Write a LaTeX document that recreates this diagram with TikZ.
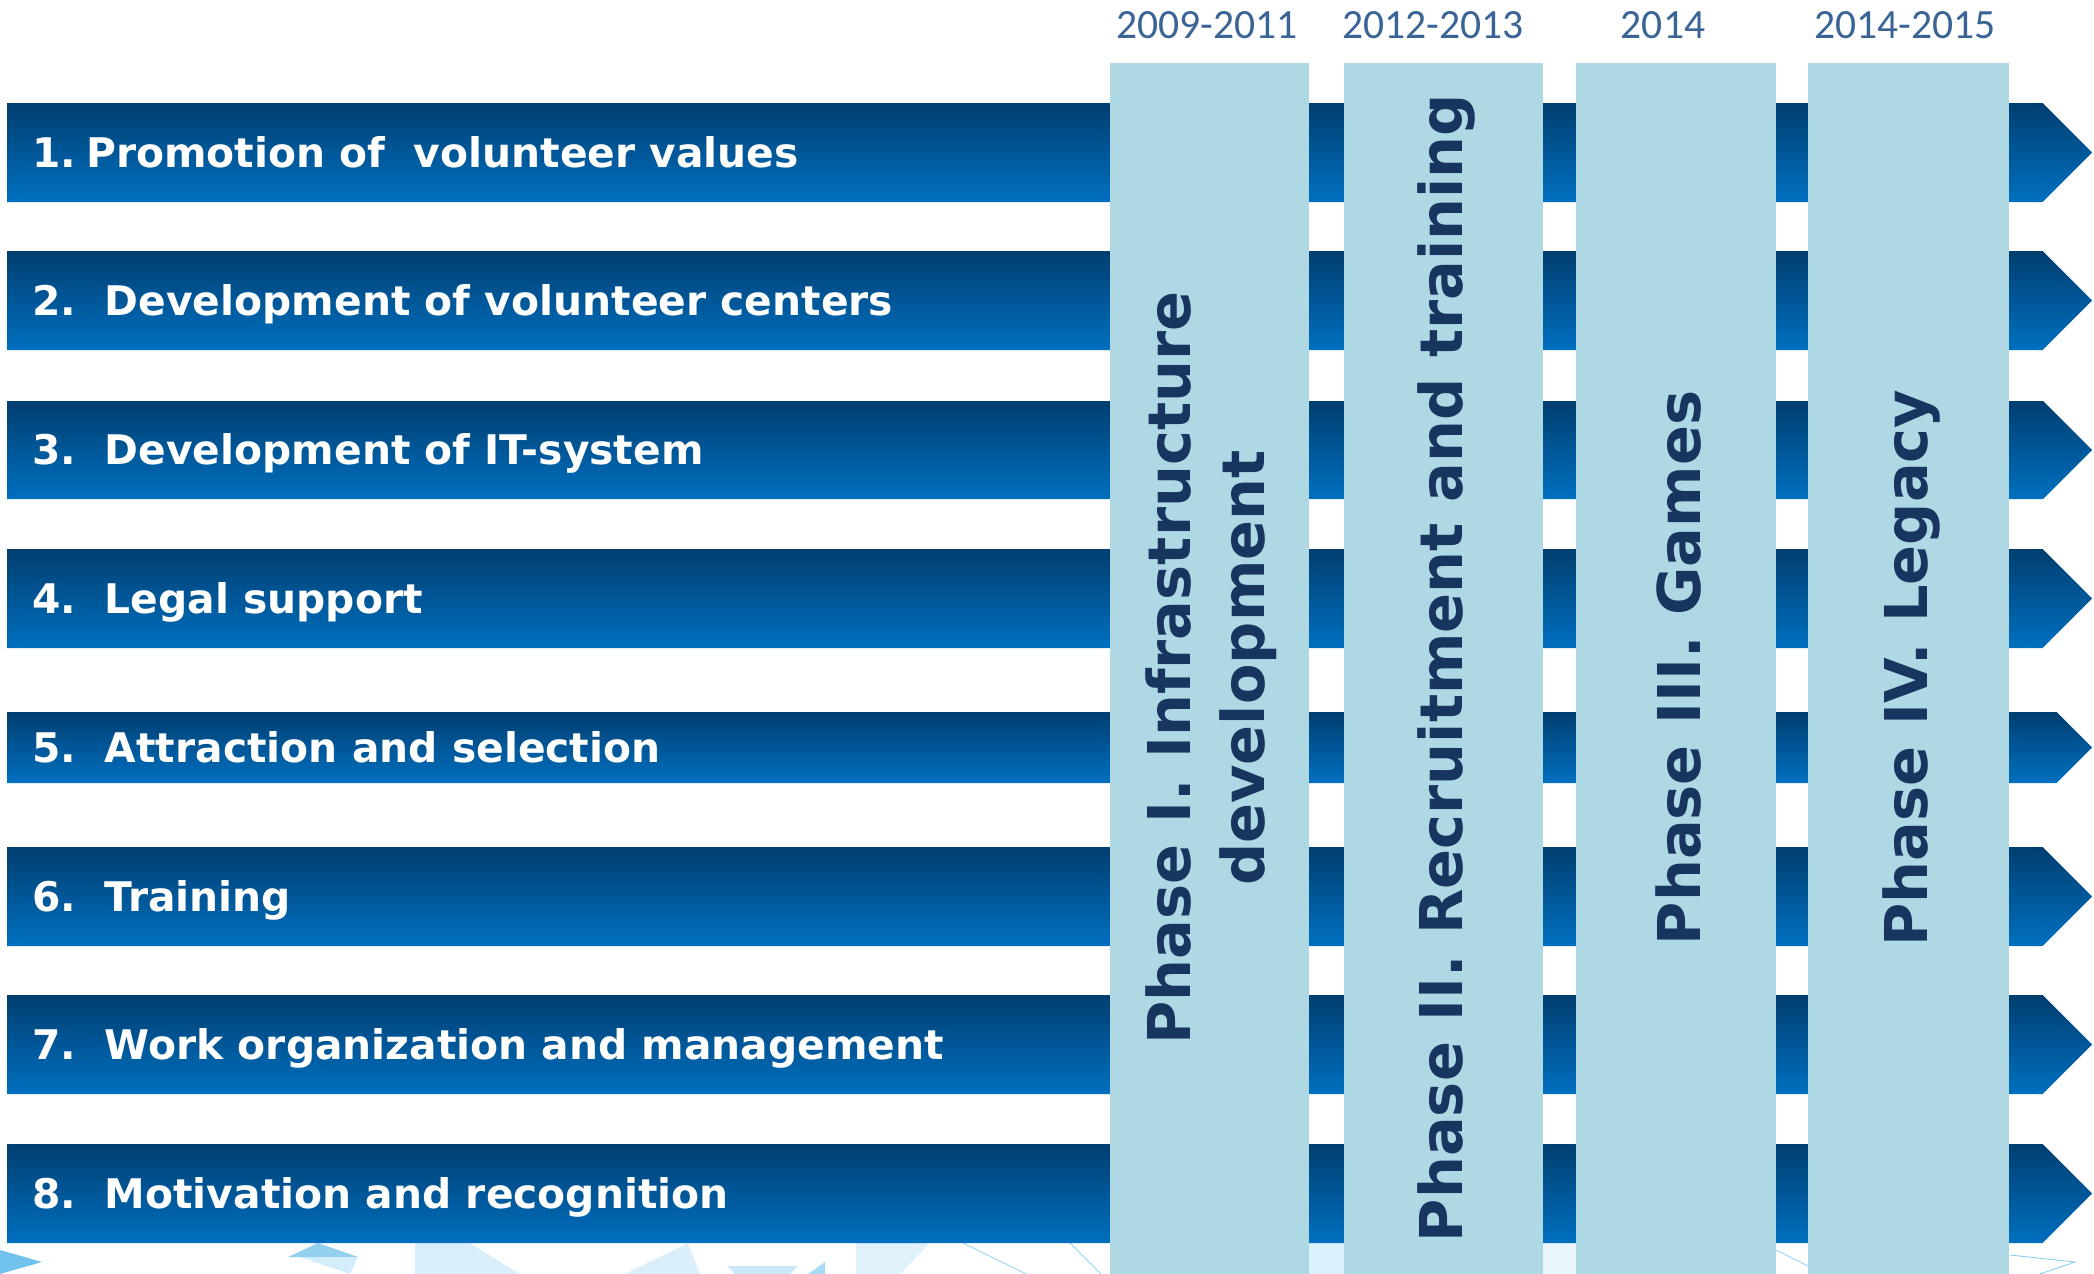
\documentclass[tikz,border=0pt]{standalone}
\usepackage{fontspec}
\setmainfont{DejaVu Sans}
\newfontfamily\yearfont{Carlito}
\definecolor{barTop}{HTML}{003E70}
\definecolor{barBot}{HTML}{0070C0}
\definecolor{colFill}{HTML}{ADD8E4}
\definecolor{phaseText}{HTML}{17355F}
\definecolor{yearText}{HTML}{3A6496}
\definecolor{deco}{HTML}{4DB3E8}
\tikzset{
  bar/.style={top color=barTop,bottom color=barBot},
  column/.style={fill=colFill},
  bartext/.style={anchor=west,text=white,inner sep=0pt,text height=14.9pt,text depth=0pt,
    font=\fontsize{20.4}{24}\selectfont\bfseries},
  phasetext/.style={rotate=90,text=phaseText,align=center,inner sep=0pt,
    font=\fontsize{29.5}{37}\selectfont\bfseries},
  yeartext/.style={text=yearText,inner sep=0pt,font=\yearfont\fontsize{20.8}{24}\selectfont}
}
\begin{document}
\begin{tikzpicture}[x=0.5pt,y=-0.5pt]
\useasboundingbox (0,0) rectangle (2094,1274);
%background triangles
\fill[deco,opacity=0.8] (0,1250)--(42,1262)--(0,1274)--cycle;
\fill[deco,opacity=0.6] (288,1257)--(318,1243)--(358,1257)--cycle;
\fill[deco!40,opacity=0.6] (300,1257)--(358,1257)--(350,1274)--cycle;
\fill[deco!35,opacity=0.6] (415,1243)--(470,1243)--(520,1274)--(415,1274)--cycle;
\fill[deco!35,opacity=0.6] (625,1274)--(688,1243)--(700,1274)--cycle;
\fill[deco!50,opacity=0.6] (727,1266)--(798,1266)--(790,1274)--(735,1274)--cycle;
\fill[deco!70,opacity=0.7] (808,1274)--(825,1262)--(825,1274)--cycle;
\fill[deco!30,opacity=0.6] (856,1243)--(930,1243)--(900,1274)--(856,1274)--cycle;
\draw[deco!60] (963,1243)--(1026,1274);
\draw[deco!60] (1070,1243)--(1101,1274);
\fill[deco!20] (1309,1243) rectangle (1344,1274);
\fill[deco!12] (1543,1243) rectangle (1576,1274);
\draw[deco!60] (1776,1250)--(1808,1266);
\draw[deco!70] (2010,1255)--(2075,1262)--(2040,1274);
%bars
\foreach \t/\b/\txt [count=\i] in {
  103/202/{1.\hspace{5pt}Promotion of\ \ volunteer values},
  251/350/{2.\hspace{0.7em}Development of volunteer centers},
  401/499/{3.\hspace{0.7em}Development of IT-system},
  549/648/{4.\hspace{0.7em}Legal support},
  712/783/{5.\hspace{0.7em}Attraction and selection},
  847/946/{6.\hspace{0.7em}Training},
  995/1094/{7.\hspace{0.7em}Work organization and management},
  1144/1243/{8.\hspace{0.7em}Motivation and recognition}}{
  \pgfmathsetmacro{\m}{(\t+\b)/2}
  \pgfmathsetmacro{\h}{2092-(\b-\t)/2}
  \shade[bar] (7,\t)--(\h,\t)--(2092,\m)--(\h,\b)--(7,\b)--cycle;
  \node[bartext] (goal\i) at (32,\m) {\txt};
}
%phases
\foreach \l/\r [count=\i] in {1110/1309,1344/1543,1576/1776,1808/2009}
  \fill[column] (\l,63) rectangle (\r,1274);
\node[yeartext] (yearI) at (1207,25) {2009-2011};
\node[yeartext] (yearII) at (1433,25) {2012-2013};
\node[yeartext] (yearIII) at (1663,25) {2014};
\node[yeartext] (yearIV) at (1905,25) {2014-2015};
\node[phasetext] (phaseI) at (1211,668) {Phase I. Infrastructure\\development};
\node[phasetext] (phaseII) at (1446,668) {Phase II. Recruitment and training};
\node[phasetext] (phaseIII) at (1678,668) {Phase III. Games};
\node[phasetext] (phaseIV) at (1911,668) {Phase IV. Legacy};
\end{tikzpicture}
\end{document}
